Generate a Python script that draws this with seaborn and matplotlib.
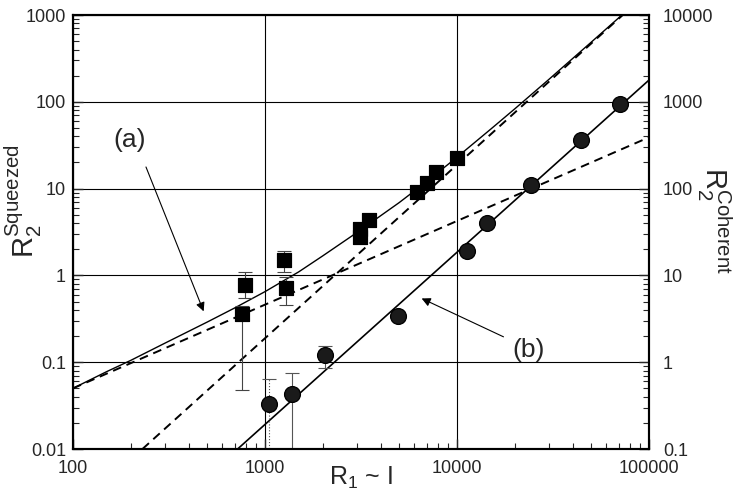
import numpy as np
import matplotlib
matplotlib.use("Agg")
import matplotlib.pyplot as plt
import matplotlib.ticker as mticker
import seaborn as sns

# squeezed-state data (left axis)
sq_x = [755, 783, 1262, 1293, 3130, 3130, 3490, 6190, 6980, 7780, 10000]
sq_y = [0.36, 0.78, 1.5, 0.72, 2.75, 3.4, 4.35, 9.1, 11.6, 15.5, 22.5]
sq_err_x = [755, 783, 1262, 1293]
sq_err_y = [0.36, 0.78, 1.5, 0.72]
sq_err_lo = [0.048, 0.55, 1.1, 0.46]
sq_err_hi = [0.45, 1.1, 1.9, 0.95]

# coherent-state data (right axis)
ci_x = [1055, 1390, 2060, 4940, 11300, 14300, 24200, 44000, 70300]
ci_y = [0.33, 0.43, 1.2, 3.4, 19, 40, 110, 360, 940]
ci_err_x = [1055, 1390, 2060]
ci_err_y = [0.33, 0.43, 1.2]
ci_err_lo = [0.05, 0.05, 0.85]
ci_err_hi = [0.64, 0.75, 1.55]

# fit curves
fit_a_x = [100, 150, 200, 300, 500, 700, 1000, 1500, 2000, 3000, 5000, 7000,
           10000, 15000, 20000, 30000, 50000, 80000]
fit_a_y = [0.05, 0.078, 0.105, 0.165, 0.29, 0.425, 0.65, 1.10, 1.68, 3.1, 6.9, 12.2,
           23.0, 48.5, 83, 180, 486, 1220]
dash1_x = [100, 100000]
dash1_y = [0.05, 39]
dash2_x = [230, 73000]
dash2_y = [0.01, 1000]
fit_b_x = [720, 100000]
fit_b_y = [0.1, 1780]

sns.set_style("ticks")
plt.rcParams["font.family"] = ["Liberation Sans", "DejaVu Sans"]
plt.rcParams["mathtext.default"] = "regular"

fig = plt.figure(figsize=(7.4, 4.9), dpi=100)
ax = fig.add_axes([73 / 740, 41 / 490, 576 / 740, 434 / 490])
ax.set_xscale("log")
ax.set_yscale("log")
ax.set_xlim(100, 1e5)
ax.set_ylim(0.01, 1000)
ax.grid(True, which="major", color="black", lw=0.8)

dash = (0, (4.5, 3))
sns.lineplot(x=fit_a_x, y=fit_a_y, ax=ax, color="black", lw=1.0, estimator=None, sort=False)
sns.lineplot(x=dash1_x, y=dash1_y, ax=ax, color="black", lw=1.4, linestyle=dash, estimator=None, sort=False)
sns.lineplot(x=dash2_x, y=dash2_y, ax=ax, color="black", lw=1.4, linestyle=dash, estimator=None, sort=False)

lo = np.array(sq_err_y) - np.array(sq_err_lo)
hi = np.array(sq_err_hi) - np.array(sq_err_y)
ax.errorbar(sq_err_x, sq_err_y, yerr=[lo, hi], fmt="none", ecolor="#444444", elinewidth=0.8, capsize=5, capthick=0.8)
sns.scatterplot(x=sq_x, y=sq_y, ax=ax, marker="s", s=115, color="black", edgecolor="black", zorder=5)

ax2 = ax.twinx()
ax2.set_yscale("log")
ax2.set_ylim(0.1, 1e4)
ax2.set_xlim(100, 1e5)
sns.lineplot(x=fit_b_x, y=fit_b_y, ax=ax2, color="black", lw=1.2, estimator=None, sort=False)
lo = np.array(ci_err_y) - np.array(ci_err_lo)
hi = np.array(ci_err_hi) - np.array(ci_err_y)
eb = ax2.errorbar(ci_err_x, ci_err_y, yerr=[lo, hi], fmt="none", ecolor="#555555", elinewidth=0.8, capsize=5, capthick=0.8)
eb[2][0].set_linestyles([":", "-", "-"])
sns.scatterplot(x=ci_x, y=ci_y, ax=ax2, marker="o", s=130, color="#1a1a1a", edgecolor="black", zorder=5)

fmt = mticker.FuncFormatter(lambda v, p: f"{v:g}")
for a in (ax, ax2):
    a.yaxis.set_major_formatter(fmt)
    a.yaxis.set_minor_formatter(mticker.NullFormatter())
    a.tick_params(which="major", direction="in", length=7, width=1, labelsize=13)
    a.tick_params(which="minor", direction="in", length=4, width=0.8)
    for s in a.spines.values():
        s.set_linewidth(1.5)
        s.set_color("black")
ax.xaxis.set_major_formatter(fmt)
ax.xaxis.set_minor_formatter(mticker.NullFormatter())
ax.tick_params(axis="x", which="both", pad=8, top=False)
ax.tick_params(axis="y", which="both", pad=5, right=False)
ax2.tick_params(axis="y", which="both", pad=10)
ax2.tick_params(axis="x", which="both", top=False, bottom=False)

ax.set_xlabel("$R_1$ ~ I", fontsize=18)
ax.xaxis.set_label_coords(0.5, -0.037)
fig.text(0.032, 0.59, "$R_2^{Squeezed}$", rotation=90, fontsize=21, ha="center", va="center")
fig.text(0.965, 0.55, "$R_2^{Coherent}$", rotation=270, fontsize=21, ha="center", va="center")

ax.text(198, 36, "(a)", fontsize=19, ha="center", va="center")
ax.annotate("", xy=(485, 0.36), xytext=(237, 19),
            arrowprops=dict(arrowstyle="-|>", color="black", lw=0.8, mutation_scale=13))
ax.text(23700, 0.138, "(b)", fontsize=19, ha="center", va="center")
ax.annotate("", xy=(6350, 0.56), xytext=(18000, 0.19),
            arrowprops=dict(arrowstyle="-|>", color="black", lw=0.8, mutation_scale=13))

fig.savefig("out.png", dpi=100)
